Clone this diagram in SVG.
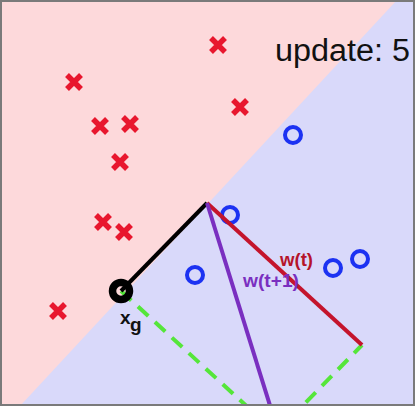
<svg xmlns="http://www.w3.org/2000/svg" xmlns:xlink="http://www.w3.org/1999/xlink" width="415" height="406" viewBox="0 0 415 406">
<style>
.x{stroke:#e8172e;stroke-width:5.5;stroke-linecap:butt;fill:none}
.o{stroke:#1c32f2;stroke-width:4;fill:none}
.lbl{font-family:"Liberation Sans",Arial,sans-serif;font-weight:bold;font-size:19px}
</style>
<defs>
<path id="cross" d="M-7,-7L7,7M7,-7L-7,7"/>
<clipPath id="frame"><rect x="0" y="0" width="415" height="406"/></clipPath>
</defs>
<rect x="0" y="0" width="415" height="406" fill="#fdd9db"/>
<polygon points="397,0 415,0 415,406 20,406" fill="#d9d9fa"/>
<g id="update"><text x="275" y="61" font-family="'Liberation Sans',Arial,sans-serif" font-size="31" fill="#111" textLength="135" lengthAdjust="spacingAndGlyphs">update: 5</text></g>
<g id="negatives" class="x">
<use xlink:href="#cross" x="218" y="45"/>
<use xlink:href="#cross" x="74" y="82"/>
<use xlink:href="#cross" x="100" y="126"/>
<use xlink:href="#cross" x="130" y="124"/>
<use xlink:href="#cross" x="240" y="107"/>
<use xlink:href="#cross" x="120" y="162"/>
<use xlink:href="#cross" x="103" y="222"/>
<use xlink:href="#cross" x="124" y="232"/>
<use xlink:href="#cross" x="58" y="311"/>
</g>
<g id="positives" class="o">
<circle cx="293" cy="135" r="8"/>
<circle cx="230" cy="215" r="8"/>
<circle cx="195" cy="275" r="8"/>
<circle cx="333" cy="268" r="8"/>
<circle cx="360" cy="259" r="8"/>
</g>
<g id="connectors" clip-path="url(#frame)" fill="none" stroke-width="4">
<path d="M121,291L276,433L362,345" stroke="#55e63a" stroke-dasharray="14,9"/>
<path d="M121,291L207,203" stroke="#000"/>
<path d="M207,203L362,345" stroke="#c4142c"/>
<path d="M207,203L272,412" stroke="#7a2fc0"/>
</g>
<g id="xg">
<circle cx="121" cy="291" r="8.5" fill="none" stroke="#000" stroke-width="7.5"/>
<text class="lbl" x="120" y="324" fill="#111" font-size="17">x</text>
<text class="lbl" x="130" y="331" fill="#111" font-size="13">g</text>
</g>
<g id="wt"><text class="lbl" x="280" y="266" fill="#b5142a" textLength="33" lengthAdjust="spacingAndGlyphs">w(t)</text></g>
<g id="wt1"><text class="lbl" x="243" y="287" fill="#7a2fc0" textLength="56" lengthAdjust="spacingAndGlyphs">w(t+1)</text></g>
<rect x="1" y="1" width="413" height="404" fill="none" stroke="#7a7a7a" stroke-width="2"/>
</svg>
